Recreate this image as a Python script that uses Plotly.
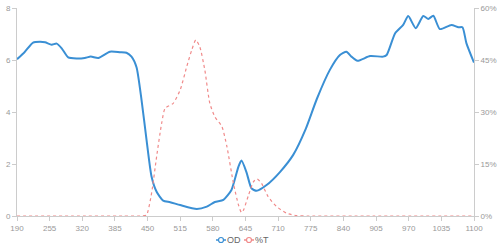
import plotly.graph_objects as go

# Wavelength (nm) and optical density
wl_od = [190, 205, 222, 236, 246, 259, 269, 279, 292, 309, 325, 337, 352, 375, 395, 408,
         418, 428, 438, 448, 458, 468, 481, 495, 515, 548, 568, 584, 601, 617, 631, 637,
         647, 657, 667, 687, 714, 740, 765, 787, 813, 833, 846, 856, 868, 893, 919, 926,
         943, 959, 969, 984, 999, 1009, 1019, 1032, 1055, 1069, 1077, 1085, 1100]
od = [6.03, 6.3, 6.67, 6.7, 6.68, 6.59, 6.63, 6.45, 6.1, 6.06, 6.08, 6.13, 6.08, 6.32, 6.3, 6.28,
      6.13, 5.72, 4.46, 2.92, 1.51, 0.93, 0.59, 0.53, 0.42, 0.27, 0.36, 0.54, 0.62, 1.0, 1.9, 2.13,
      1.68, 1.06, 0.97, 1.19, 1.7, 2.35, 3.35, 4.5, 5.62, 6.19, 6.32, 6.13, 5.97, 6.15, 6.13, 6.19,
      7.03, 7.35, 7.69, 7.22, 7.69, 7.58, 7.7, 7.19, 7.35, 7.26, 7.26, 6.64, 5.9]

# Wavelength (nm) and transmittance (%)
wl_t = [190, 300, 400, 440, 448, 458, 468, 478, 485, 501, 515, 528, 538, 546, 554, 564,
        574, 584, 598, 608, 621, 631, 637, 641, 651, 661, 668, 677, 690, 707, 727, 747,
        770, 900, 1100]
t = [0, 0, 0, 0, 0.3, 6.6, 17.1, 26.7, 31.1, 32.5, 36.4, 43.1, 47.9, 50.8, 48.8, 42.1,
     32.5, 28.6, 25.8, 20.0, 9.4, 3.2, 1.0, 1.7, 6.0, 9.9, 10.7, 9.4, 5.6, 2.7, 0.8, 0.1,
     0, 0, 0]

series_names = ["OD", "%T"]
x_ticks = list(range(190, 1101, 65))
y_ticks = [0, 2, 4, 6, 8]
y2_ticks = [0, 15, 30, 45, 60]

blue = "#3a8fd4"
red = "#f08a8a"
gray = "#999999"
axis_col = "#cccccc"

W, H = 500, 250
ML, MR, MT, MB = 17, 26, 8, 34
PW, PH = W - ML - MR, H - MT - MB

def px(xp):
    return (xp - ML) / PW

def py(yp):
    return (H - MB - yp) / PH

fig = go.Figure()
fig.add_trace(go.Scatter(x=wl_t, y=t, yaxis="y2", mode="lines", name=series_names[1], showlegend=False,
                         line=dict(color=red, width=1.2, dash="3px,3px", shape="spline", smoothing=0.6)))
fig.add_trace(go.Scatter(x=wl_od, y=od, mode="lines", name=series_names[0], showlegend=False,
                         line=dict(color=blue, width=2, shape="spline", smoothing=0.6)))

tickfont = dict(family="Liberation Sans, Arial, sans-serif", size=8, color=gray)

# manual legend (small ECharts-like symbols)
shapes = []
annotations = []
leg_y = 240
for name, col, x0 in [(series_names[0], blue, 216), (series_names[1], red, 244)]:
    shapes.append(dict(type="line", xref="paper", yref="paper", x0=px(x0), x1=px(x0 + 10),
                       y0=py(leg_y), y1=py(leg_y), line=dict(color=col, width=1.5)))
    shapes.append(dict(type="circle", xref="paper", yref="paper",
                       x0=px(x0 + 5 - 2.5), x1=px(x0 + 5 + 2.5),
                       y0=py(leg_y + 2.5), y1=py(leg_y - 2.5),
                       fillcolor="white", line=dict(color=col, width=1.2)))
    annotations.append(dict(text=name, xref="paper", yref="paper", x=px(x0 + 10), y=py(leg_y),
                            xanchor="left", yanchor="middle", showarrow=False, borderpad=0,
                            font=dict(family="Liberation Sans, Arial, sans-serif", size=9, color="#666666")))

fig.update_layout(
    width=W, height=H,
    margin=dict(l=ML, r=MR, t=MT, b=MB, autoexpand=False),
    paper_bgcolor="white", plot_bgcolor="white",
    font=tickfont,
    showlegend=False,
    xaxis=dict(range=[190, 1100], tickvals=x_ticks, ticktext=[str(v) for v in x_ticks],
               showgrid=False, zeroline=False, showline=True, linecolor=axis_col, linewidth=1,
               ticks="outside", ticklen=4, tickcolor=axis_col, tickfont=tickfont),
    yaxis=dict(range=[0, 8], tickvals=y_ticks, showgrid=False, zeroline=False,
               showline=True, linecolor=axis_col, linewidth=1,
               ticks="outside", ticklen=4, tickcolor=axis_col, tickfont=tickfont),
    yaxis2=dict(range=[0, 60], tickvals=y2_ticks, ticktext=[f"{v}%" for v in y2_ticks],
                overlaying="y", side="right", showgrid=False, zeroline=False,
                showline=True, linecolor=axis_col, linewidth=1,
                ticks="outside", ticklen=4, tickcolor=axis_col, tickfont=tickfont),
    shapes=shapes,
    annotations=annotations,
)

fig.write_html("out.html")
